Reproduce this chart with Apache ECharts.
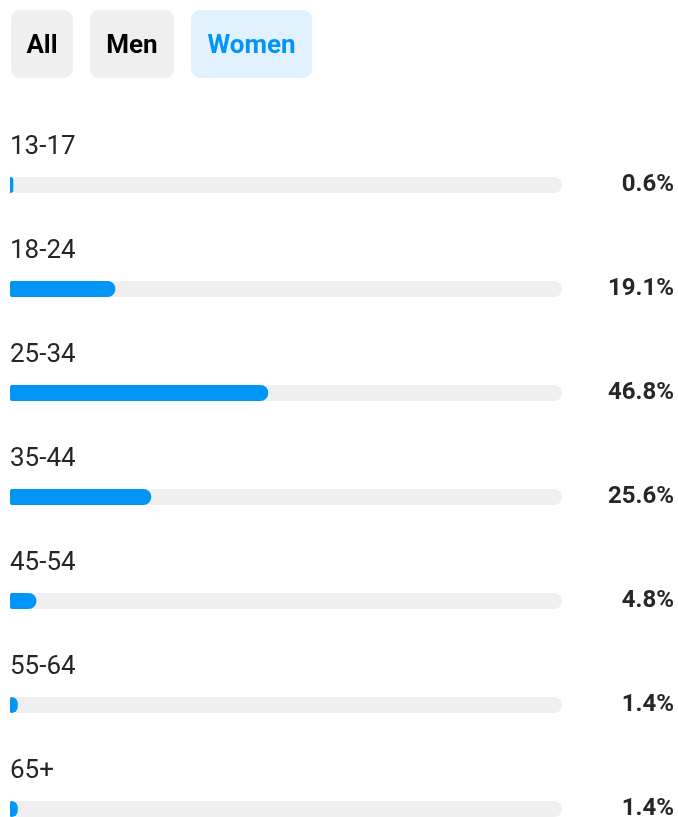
<!DOCTYPE html>
<html lang="en">
<head>
    <meta charset="UTF-8">
    <title>Age range - Women</title>
    <script src="https://cdn.jsdelivr.net/npm/echarts@6/dist/echarts.min.js"></script>
    <style>
        html, body { margin: 0; padding: 0; background: #fff; }
        #fig1 { width: 678px; height: 817px; }
    </style>
</head>
<body>
    <div id="fig1"></div>
    <script>
        // 数据
        let ageGroups = ['13-17', '18-24', '25-34', '35-44', '45-54', '55-64', '65+'];
        let womenShare = [0.6, 19.1, 46.8, 25.6, 4.8, 1.4, 1.4];
        let tabs = ['All', 'Men', 'Women'];

        let blue = '#0095f6';
        let grey = '#efefef';
        let textColor = '#262626';

        // 顶部切换按钮
        let tabBoxes = [
            {x: 11, w: 62, fill: grey, color: '#000'},
            {x: 90, w: 84, fill: grey, color: '#000'},
            {x: 191, w: 121, fill: '#e1f1fd', color: blue}
        ];
        let tabGraphics = tabs.map((t, i) => ({
            type: 'group',
            x: tabBoxes[i].x,
            y: 10,
            children: [
                {
                    type: 'rect',
                    shape: {x: 0, y: 0, width: tabBoxes[i].w, height: 68, r: 9},
                    style: {fill: tabBoxes[i].fill}
                },
                {
                    type: 'text',
                    x: tabBoxes[i].w / 2,
                    y: 36,
                    style: {
                        text: t,
                        fill: tabBoxes[i].color,
                        font: 'bold 26px Roboto',
                        textAlign: 'center',
                        textVerticalAlign: 'middle'
                    }
                }
            ]
        }));

        let fig1 = echarts.init(document.getElementById('fig1'), null, {renderer: 'canvas'});
        let option = {
            animation: false,
            textStyle: {fontFamily: 'Roboto'},
            // 最后一行超出画布，关闭 v6 的外边界约束
            grid: {left: 10, right: 116, top: 133, height: 728, outerBoundsMode: 'none', containLabel: false},
            xAxis: {
                type: 'value',
                min: 0,
                max: 100,
                show: false
            },
            yAxis: [
                {
                    type: 'category',
                    data: ageGroups,
                    inverse: true,
                    show: false
                },
                {
                    type: 'category',
                    data: womenShare.map((v) => v.toFixed(1) + '%'),
                    inverse: true,
                    position: 'right',
                    axisLine: {show: false},
                    axisTick: {show: false},
                    axisLabel: {
                        margin: 112,
                        align: 'right',
                        fontSize: 24,
                        fontWeight: 'bold',
                        color: textColor,
                        padding: [0, 0, 4, 0]
                    }
                }
            ],
            series: [
                {
                    type: 'bar',
                    yAxisIndex: 0,
                    data: womenShare,
                    barWidth: 16,
                    itemStyle: {color: blue, borderRadius: [2, 8, 8, 2]},
                    showBackground: true,
                    backgroundStyle: {color: grey, borderRadius: 8},
                    label: {
                        show: true,
                        position: [0, -30],
                        align: 'left',
                        verticalAlign: 'middle',
                        fontSize: 26,
                        color: textColor,
                        formatter: (p) => p.name
                    }
                }
            ],
            graphic: tabGraphics
        };
        fig1.setOption(option);
    </script>
</body>
</html>
